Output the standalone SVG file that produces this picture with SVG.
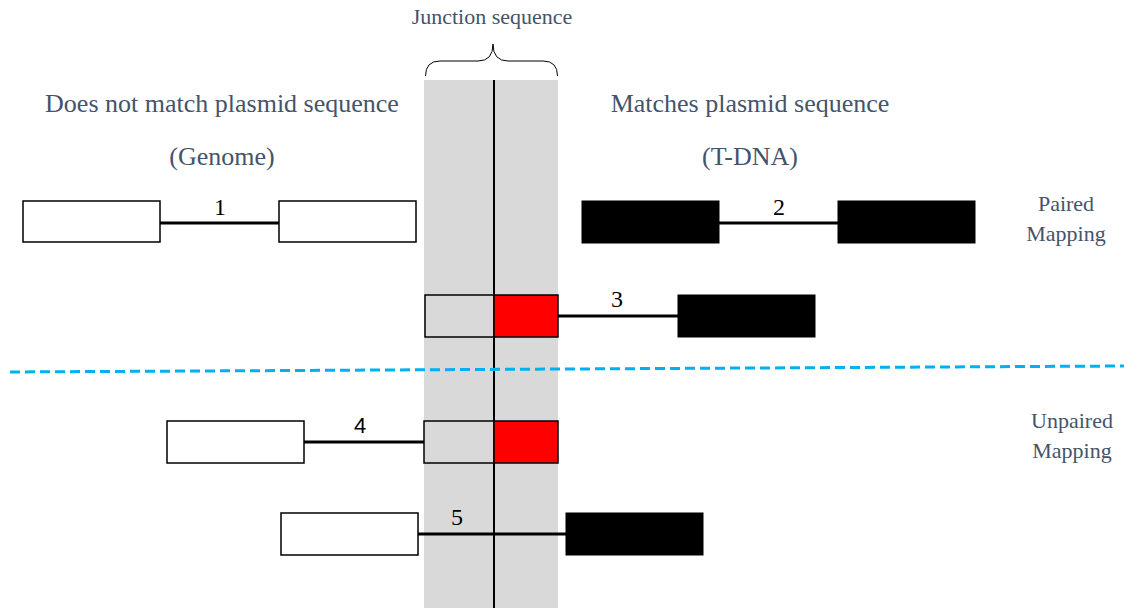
<svg xmlns="http://www.w3.org/2000/svg" width="1124" height="608" viewBox="0 0 1124 608">
<style>
.hdr{font-family:'Liberation Serif','Times New Roman',serif;fill:#44546a;text-anchor:middle}
.num{font-family:'Liberation Serif','Times New Roman',serif;font-size:24px;fill:#000;text-anchor:middle}
.wb{fill:#fff;stroke:#000;stroke-width:1.5}
.bb{fill:#000;stroke:#000;stroke-width:1}
.gb{fill:#d9d9d9;stroke:#000;stroke-width:1.5}
.rb{fill:#ff0000;stroke:#000;stroke-width:1.5}
.ln{stroke:#000;stroke-width:3;fill:none}
</style>
<rect width="1124" height="608" fill="#fff"/>
<g id="junction">
<rect x="424" y="80" width="134" height="528" fill="#d9d9d9"/>
<line x1="494" y1="80" x2="494" y2="608" stroke="#000" stroke-width="2"/>
<path d="M425.5,76 Q425.5,61 440,61 L478,61 Q493,61 493,44 Q493,61 508,61 L543,61 Q557.5,61 557.5,76" fill="none" stroke="#000" stroke-width="1"/>
<text class="hdr" x="492" y="24" font-size="22">Junction sequence</text>
</g>
<g id="labels">
<text class="hdr" x="222" y="112" font-size="26">Does not match plasmid sequence</text>
<text class="hdr" x="222" y="165" font-size="26">(Genome)</text>
<text class="hdr" x="750" y="112" font-size="26">Matches plasmid sequence</text>
<text class="hdr" x="750" y="165" font-size="26">(T-DNA)</text>
<text class="hdr" x="1066" y="211" font-size="22">Paired</text>
<text class="hdr" x="1066" y="241" font-size="22">Mapping</text>
<text class="hdr" x="1072" y="428" font-size="22">Unpaired</text>
<text class="hdr" x="1072" y="458" font-size="22">Mapping</text>
</g>
<g id="divider">
<line x1="10" y1="372" x2="1124" y2="366" stroke="#00b0f0" stroke-width="3" stroke-dasharray="10,5"/>
</g>
<g id="connectors">
<line class="ln" x1="160" y1="223" x2="279" y2="223"/>
<line class="ln" x1="719" y1="223" x2="838" y2="223"/>
<line class="ln" x1="558" y1="316" x2="678" y2="316"/>
<line class="ln" x1="304" y1="442" x2="424" y2="442"/>
<line class="ln" x1="418" y1="534" x2="566" y2="534"/>
</g>
<g id="read1">
<rect class="wb" x="23" y="201" width="137" height="41"/>
<rect class="wb" x="279" y="201" width="137" height="41"/>
<text class="num" x="220" y="215">1</text>
</g>
<g id="read2">
<rect class="bb" x="582" y="201" width="137" height="42"/>
<rect class="bb" x="838" y="201" width="137" height="42"/>
<text class="num" x="779" y="215">2</text>
</g>
<g id="read3">
<rect class="gb" x="425" y="295" width="69" height="42"/>
<rect class="rb" x="494" y="295" width="64" height="42"/>
<rect class="bb" x="678" y="295" width="137" height="42"/>
<text class="num" x="617" y="307">3</text>
</g>
<g id="read4">
<rect class="wb" x="167" y="421" width="137" height="42"/>
<rect class="gb" x="424" y="421" width="70" height="42"/>
<rect class="rb" x="494" y="421" width="64" height="42"/>
<text x="360" y="433" font-family="'Liberation Sans',Arial,sans-serif" font-size="22" text-anchor="middle">4</text>
</g>
<g id="read5">
<rect class="wb" x="281" y="513" width="137" height="42"/>
<rect class="bb" x="566" y="513" width="137" height="42"/>
<text class="num" x="457" y="525">5</text>
</g>
</svg>
